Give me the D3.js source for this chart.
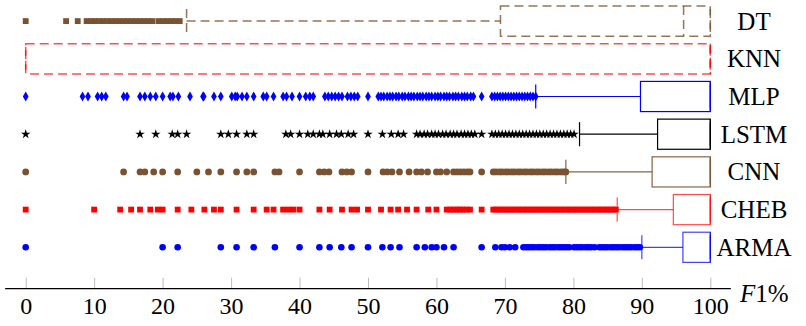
<!DOCTYPE html>
<html>
<head>
<meta charset="utf-8">
<script src="https://cdnjs.cloudflare.com/ajax/libs/d3/7.8.5/d3.min.js"></script>
<style>
  body { margin: 0; background: #fff; }
  svg { display: block; }
  svg text { font-family: "Liberation Serif", "Times New Roman", serif; }
</style>
</head>
<body>
<svg id="chart"></svg>
<script>
// models, bottom row first
const models = ["ARMA", "CHEB", "CNN", "LSTM", "MLP", "KNN", "DT"];
const lowerWhisker = [90.0, 86.4, 78.9, 80.9, 74.5, 0, 23.5];
const lowerQuartile = [96.0, 94.6, 91.5, 92.3, 89.8, 0, 69.35];
const medians = [100, 100, 100, 100, 100, 100, 96.1];
const upperQuartile = [100, 100, 100, 100, 100, 100, 100];
const upperWhisker = [100, 100, 100, 100, 100, 100, 100];
const xTicks = [0, 10, 20, 30, 40, 50, 60, 70, 80, 90, 100];

// outliers
const outliersARMA = [0, 20.0, 22.2, 28.5, 30.8, 33.3, 36.4, 40.0, 42.9, 44.4, 46.1, 47.6, 50.0,
  52.1, 53.3, 54.6, 57.1, 58.3, 59.3, 60.0, 61.1, 62.5, 66.6, 68.6, 69.5, 70.0, 70.7, 71.5,
  72.7, 73.1, 73.5, 73.9, 74.3, 74.8, 75.2, 75.6, 76.0, 76.5, 76.9, 77.3, 77.8, 78.2, 78.6,
  79.0, 79.4, 80.1, 80.5, 80.9, 81.3, 81.8, 82.2, 82.6, 83.1, 83.8, 84.2, 84.6, 85.0, 85.5,
  85.9, 86.3, 86.7, 87.2, 87.6, 88.0, 88.4, 88.9, 89.3, 89.7];
const outliersCHEB = [0, 10.0, 13.8, 15.4, 16.7, 18.2, 19.3, 20.0, 22.2, 24.2, 26.1, 27.5, 28.5,
  30.8, 33.3, 35.2, 36.2, 37.6, 38.4, 39.1, 40.0, 42.9, 44.4, 46.2, 47.6, 48.4, 50.0, 51.9,
  53.3, 54.4, 55.7, 57.1, 58.8, 60.0, 61.5, 62.0, 62.5, 63.0, 63.4, 63.9, 64.4, 64.9, 66.6,
  68.3, 68.7, 69.2, 69.6, 70.1, 70.5, 71.0, 71.4, 71.9, 72.3, 72.8, 73.2, 73.7, 74.1, 74.6,
  75.0, 75.5, 75.9, 76.4, 76.8, 77.3, 77.7, 78.2, 78.6, 79.1, 79.5, 80.0, 80.4, 80.9, 81.3,
  81.8, 82.2, 82.7, 83.1, 83.6, 84.0, 84.5, 84.9, 85.4, 85.8, 86.2];
const outliersCNN = [0, 14.3, 16.7, 17.4, 18.7, 20.0, 22.2, 25.0, 26.7, 28.5, 30.8, 32.3, 33.3,
  36.4, 37.0, 40.0, 42.9, 43.6, 44.3, 46.2, 46.9, 47.6, 50.0, 52.2, 52.8, 53.5, 54.6, 56.0,
  57.1, 57.8, 58.7, 60.0, 60.6, 61.5, 62.5, 63.0, 63.5, 64.0, 64.5, 64.9, 66.6, 68.3, 68.7,
  69.2, 69.6, 70.1, 70.5, 71.0, 71.4, 71.9, 72.3, 72.8, 73.2, 73.7, 74.1, 74.6, 75.0, 75.5,
  75.9, 76.4, 76.8, 77.3, 77.7, 78.2, 78.6, 78.9];
const outliersLSTM = [0, 16.7, 19.0, 21.4, 22.2, 23.5, 28.5, 29.6, 30.8, 32.3, 33.3, 38.0, 38.7,
  40.0, 41.2, 42.0, 42.9, 43.4, 44.4, 45.4, 46.1, 47.1, 47.9, 50.0, 52.1, 53.4, 54.4, 55.2,
  57.1, 57.6, 58.2, 58.7, 59.3, 59.8, 60.3, 60.9, 61.4, 62.0, 62.5, 63.0, 63.6, 64.1, 64.6,
  65.1, 65.6, 66.6, 68.1, 68.6, 69.1, 69.6, 70.1, 70.6, 71.1, 71.6, 72.1, 72.6, 73.1, 73.6,
  74.1, 74.6, 75.1, 75.6, 76.1, 76.6, 77.1, 77.6, 78.1, 78.6, 79.1, 79.6, 80.1];
const outliersMLP = [0, 8.3, 9.1, 10.5, 11.1, 11.7, 14.3, 14.8, 16.7, 17.4, 18.2, 19.0, 20.0,
  21.1, 21.5, 22.3, 24.0, 25.9, 26.0, 27.5, 28.5, 30.1, 30.6, 30.9, 31.6, 32.3, 33.3, 34.7,
  35.2, 36.2, 37.6, 38.1, 38.9, 40.0, 40.9, 41.5, 42.0, 43.7, 44.2, 44.7, 45.2, 45.7, 46.2,
  47.0, 47.5, 48.0, 48.5, 50.0, 51.5, 51.9, 52.3, 52.8, 53.2, 53.6, 54.1, 54.5, 55.0, 55.4,
  55.9, 56.3, 56.7, 57.2, 57.6, 58.0, 58.5, 58.9, 59.3, 59.8, 60.2, 60.6, 61.1, 61.5, 61.9,
  62.4, 62.8, 63.2, 63.7, 64.1, 64.5, 65.0, 65.4, 66.6, 68.1, 68.5, 68.9, 69.3, 69.7, 70.1,
  70.5, 70.9, 71.3, 71.7, 72.1, 72.5, 72.9, 73.3, 73.7, 74.1, 74.5];
const outliersKNN = [];
const outliersDT = [0, 5.9, 7.6, 8.9, 9.5, 10.1, 10.7, 11.3, 11.9, 12.5, 13.1, 13.7, 14.3, 14.9,
  15.5, 16.1, 16.7, 17.3, 17.9, 18.5, 19.4, 20.1, 20.7, 21.3, 21.9, 22.5];
const outliers = [outliersARMA, outliersCHEB, outliersCNN, outliersLSTM, outliersMLP, outliersKNN, outliersDT];

// looks
const brown = "#7b5230";
const styles = [
  { color: "#0000ff", opacity: 0.75, width: 1.2, dash: null, mark: d3.symbolCircle, size: 34 },
  { color: "#ff0000", opacity: 0.7, width: 1.2, dash: null, mark: d3.symbolSquare, size: 34 },
  { color: brown, opacity: 0.9, width: 1.2, dash: null, mark: d3.symbolCircle, size: 36 },
  { color: "#000000", opacity: 1, width: 1.2, dash: null, mark: d3.symbolStar, size: 28 },
  { color: "#0000ff", opacity: 1, width: 1.2, dash: null, mark: d3.symbolDiamond, size: 28 },
  { color: "#ff0000", opacity: 0.7, width: 1.5, dash: "9,5", mark: d3.symbolSquare, size: 34 },
  { color: brown, opacity: 0.8, width: 1.5, dash: "9,5", mark: d3.symbolSquare, size: 34 },
];

const width = 806;
const height = 326;
const axisY = 288.7;
const rowStep = 37.7;
const boxHalf = rowStep * 0.4;
const capHalf = rowStep * 0.32;

const svg = d3.select("#chart").attr("width", width).attr("height", height);

const xScale = d3.scaleLinear().domain([0, 100]).range([25.7, 710.3]);
const yScale = d3.scaleLinear().domain([0, 6]).range([247.3, 21.1]);

const drawAxes = () => {
  // light grey ticks pointing up
  svg.append("g")
    .attr("transform", "translate(0," + axisY + ")")
    .call(d3.axisTop(xScale).tickValues(xTicks).tickSize(11).tickFormat(""))
    .call((g) => g.select(".domain").remove())
    .call((g) => g.selectAll("line").attr("stroke", "#bdbdbd").attr("stroke-width", 1));

  svg.append("line")
    .attr("x1", xScale(-3)).attr("x2", xScale(103))
    .attr("y1", axisY).attr("y2", axisY)
    .attr("stroke", "#000").attr("stroke-width", 1.2);

  svg.append("g")
    .attr("transform", "translate(0," + axisY + ")")
    .call(d3.axisBottom(xScale).tickValues(xTicks).tickSize(0))
    .call((g) => g.select(".domain").remove())
    .call((g) => g.selectAll("text")
      .attr("dy", null).attr("y", 25.5)
      .attr("fill", "#000")
      .style("font-size", "24px")
      .style("font-family", "'Liberation Serif', serif"));

  const lab = svg.append("text")
    .attr("x", 740).attr("y", 302)
    .style("font-size", "25px");
  lab.append("tspan").attr("font-style", "italic").text("F");
  lab.append("tspan").text("1%");

  svg.selectAll(".model-label")
    .data(models)
    .enter()
    .append("text")
    .attr("class", "model-label")
    .attr("x", 754)
    .attr("y", (d, i) => yScale(i) + 8.5)
    .attr("text-anchor", "middle")
    .style("font-size", "25px")
    .text((d) => d);
};

const drawBoxes = () => {
  const g = svg.append("g").attr("fill", "none");
  models.forEach((m, i) => {
    const st = styles[i];
    const y = yScale(i);
    const row = g.append("g")
      .attr("stroke", st.color)
      .attr("stroke-opacity", st.opacity)
      .attr("stroke-width", st.width)
      .attr("stroke-dasharray", st.dash);
    // whiskers
    row.append("line")
      .attr("x1", xScale(lowerWhisker[i])).attr("x2", xScale(lowerQuartile[i]))
      .attr("y1", y).attr("y2", y);
    row.append("line")
      .attr("x1", xScale(upperQuartile[i])).attr("x2", xScale(upperWhisker[i]))
      .attr("y1", y).attr("y2", y);
    row.append("line")
      .attr("x1", xScale(lowerWhisker[i])).attr("x2", xScale(lowerWhisker[i]))
      .attr("y1", y - capHalf).attr("y2", y + capHalf);
    row.append("line")
      .attr("x1", xScale(upperWhisker[i])).attr("x2", xScale(upperWhisker[i]))
      .attr("y1", y - capHalf).attr("y2", y + capHalf);
    // box + median
    row.append("rect")
      .attr("x", xScale(lowerQuartile[i]))
      .attr("y", y - boxHalf)
      .attr("width", xScale(upperQuartile[i]) - xScale(lowerQuartile[i]))
      .attr("height", boxHalf * 2);
    row.append("line")
      .attr("x1", xScale(medians[i])).attr("x2", xScale(medians[i]))
      .attr("y1", y - boxHalf).attr("y2", y + boxHalf);
  });
};

const drawOutliers = () => {
  models.forEach((m, i) => {
    const st = styles[i];
    svg.append("g")
      .selectAll("path")
      .data(outliers[i])
      .enter()
      .append("path")
      .attr("d", d3.symbol().type(st.mark).size(st.size))
      .attr("transform", (d) => "translate(" + xScale(d) + "," + yScale(i) + ")")
      .attr("fill", st.color);
  });
};

drawAxes();
drawBoxes();
drawOutliers();
</script>
</body>
</html>
